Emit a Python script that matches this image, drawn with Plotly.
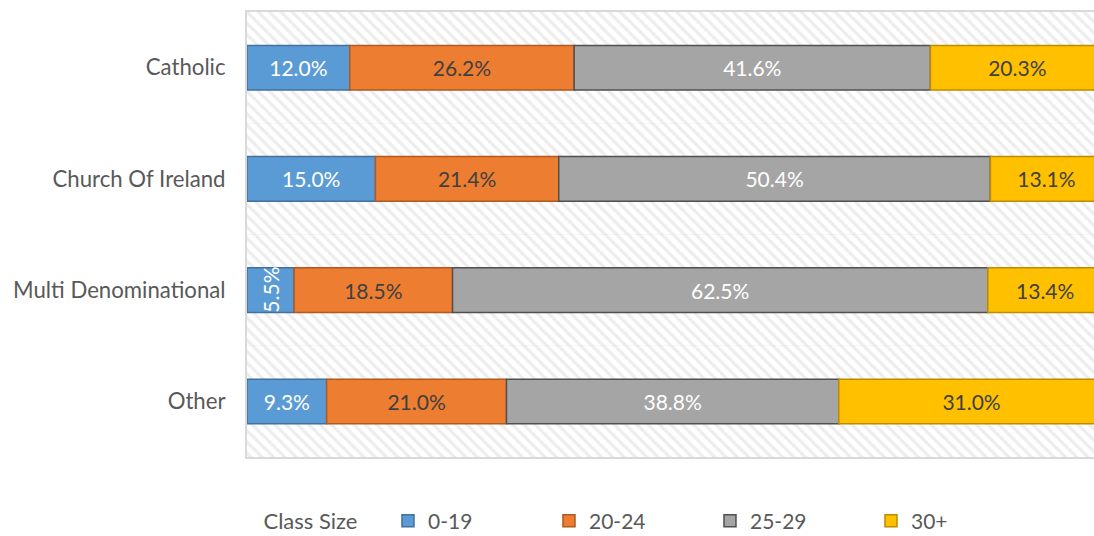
import plotly.graph_objects as go

categories = ["Catholic", "Church Of Ireland", "Multi Denominational", "Other"]
series_names = ["0-19", "20-24", "25-29", "30+"]
v_0_19 = [12.0, 15.0, 5.5, 9.3]
v_20_24 = [26.2, 21.4, 18.5, 21.0]
v_25_29 = [41.6, 50.4, 62.5, 38.8]
v_30p = [20.3, 13.1, 13.4, 31.0]
series_values = [v_0_19, v_20_24, v_25_29, v_30p]

fills = ["#5B9BD5", "#ED7D31", "#A5A5A5", "#FFC000"]
lines = ["#41719C", "#AE5A21", "#505050", "#BC8C00"]
label_colors = ["white", "#404040", "white", "#404040"]

FONT = "Lato"
FS = 21
XMAX = 98.9

fig = go.Figure()

# hatched background bands
fig.add_trace(go.Bar(
    y=categories, x=[XMAX + 5] * len(categories), base=0, width=1.0,
    orientation="h", showlegend=False, hoverinfo="skip",
    marker=dict(color="white", line=dict(width=0),
                pattern=dict(shape="\\", fgcolor="#DCDCDC", bgcolor="white",
                             size=8, solidity=0.4)),
))

base = [0.0] * len(categories)
annotations = []
for i, (name, vals) in enumerate(zip(series_names, series_values)):
    texts = []
    for j, v in enumerate(vals):
        if v < 8:
            texts.append("")
            annotations.append(dict(
                x=base[j] + v / 2, y=categories[j], xref="x", yref="y",
                text=f"{v:.1f}%", textangle=-90, showarrow=False,
                font=dict(family=FONT, size=FS, color=label_colors[i])))
        else:
            texts.append(f"{v:.1f}%")
    fig.add_trace(go.Bar(
        y=categories, x=vals, base=list(base), name=name, orientation="h",
        width=0.4,
        marker=dict(color=fills[i], line=dict(color=lines[i], width=1.5)),
        text=texts, textposition="inside", insidetextanchor="middle",
        textangle=0,
        textfont=dict(family=FONT, size=FS, color=label_colors[i]),
    ))
    base = [b + v for b, v in zip(base, vals)]

fig.update_layout(
    width=1094, height=536,
    margin=dict(l=247, r=0, t=12, b=79),
    barmode="overlay",
    paper_bgcolor="white", plot_bgcolor="white",
    font=dict(family=FONT, size=FS, color="#595959"),
    uniformtext=dict(minsize=FS, mode="show"),
    annotations=annotations,
    showlegend=True,
    legend=dict(
        orientation="h", xref="container", yref="container",
        x=0.239, y=0.028, xanchor="left", yanchor="middle",
        title=dict(text="Class Size    ", font=dict(family=FONT, size=FS + 1, color="#595959")),
        font=dict(family=FONT, size=FS, color="#595959"),
        entrywidth=116, entrywidthmode="pixels", itemwidth=30,
        traceorder="normal",
    ),
    xaxis=dict(range=[0, XMAX], showticklabels=False, showgrid=False,
               zeroline=False, showline=True, linecolor="#D9D9D9", linewidth=2,
               mirror=True, ticks=""),
    yaxis=dict(categoryorder="array", categoryarray=categories[::-1],
               tickson="boundaries", showgrid=True, gridcolor="#D9D9D9",
               gridwidth=2, showline=True, linecolor="#D9D9D9", linewidth=2,
               mirror=False, ticks="", ticklabelstandoff=15,
               tickfont=dict(family=FONT, size=22.2, color="#595959"),
               range=[-0.5, 3.5]),
)

fig.write_html("out.html", config={"displayModeBar": False},
               post_script="document.body.style.margin='0';")
